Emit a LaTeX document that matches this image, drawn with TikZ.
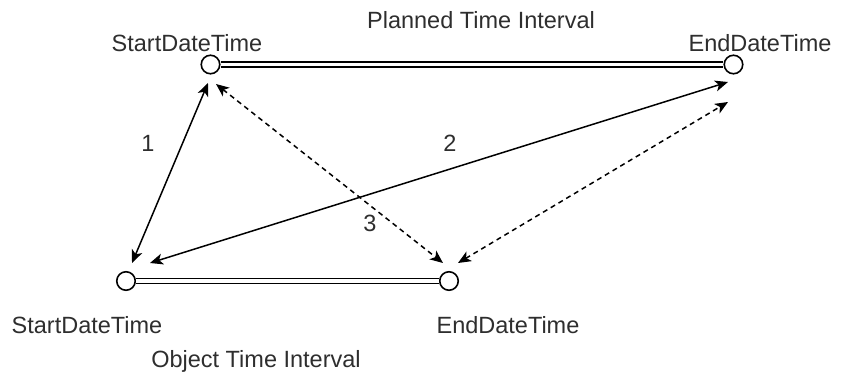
\documentclass[tikz,border=0pt]{standalone}
\usepackage{fontspec}
\setmainfont{Liberation Sans}
\usetikzlibrary{arrows.meta}
\begin{document}
\begin{tikzpicture}[x=1pt,y=-1pt,
  endpt/.style={circle,draw=black,line width=1.6pt,fill=white,minimum size=18.5pt,inner sep=0pt},
  interval/.style={draw=black,line width=1.7pt,double=white,double distance=3.5pt},
  lbl/.style={font=\fontsize{23.5}{28}\selectfont,text=black!82,inner sep=0pt},
  conn/.style={line width=1.5pt,{Stealth[length=13pt,width=11pt,inset=3.5pt]}-{Stealth[length=13pt,width=11pt,inset=3.5pt]}},
  dconn/.style={conn,dash pattern=on 5pt off 4pt}]
\useasboundingbox (0,0) rectangle (843,378);
% endpoints
\node[endpt] (ps) at (210.5,64.5) {};
\node[endpt] (pe) at (733.5,64.5) {};
\node[endpt] (os) at (126,281) {};
\node[endpt] (oe) at (449,281) {};
% intervals
\draw[interval] (ps.east) -- (pe.west);
\draw[interval] (os.east) -- (oe.west);
% arrow end coordinates
\coordinate (a1t) at (208,83);
\coordinate (a1b) at (132,263);
\coordinate (a2b) at (150,263);
\coordinate (a2t) at (728,82);
\coordinate (a3t) at (216,84);
\coordinate (a3b) at (443,263);
\coordinate (a4b) at (458,263);
\coordinate (a4t) at (728,102);
% connectors
\draw[conn] (a1t) -- (a1b);
\draw[conn] (a2b) -- (a2t);
\draw[dconn] (a3t) -- (a3b);
\draw[dconn] (a4b) -- (a4t);
% labels
\node[lbl] (tPlan) at (481,20) {Planned Time Interval};
\node[lbl] (tPS) at (187,43) {StartDateTime};
\node[lbl] (tPE) at (760,43) {EndDateTime};
\node[lbl] (tOS) at (87,325) {StartDateTime};
\node[lbl] (tOE) at (508,325) {EndDateTime};
\node[lbl] (tObj) at (256,361) {Object Time Interval};
\node[lbl] (n1) at (148,143) {1};
\node[lbl] (n2) at (450,143) {2};
\node[lbl] (n3) at (370,223) {3};
\end{tikzpicture}
\end{document}
